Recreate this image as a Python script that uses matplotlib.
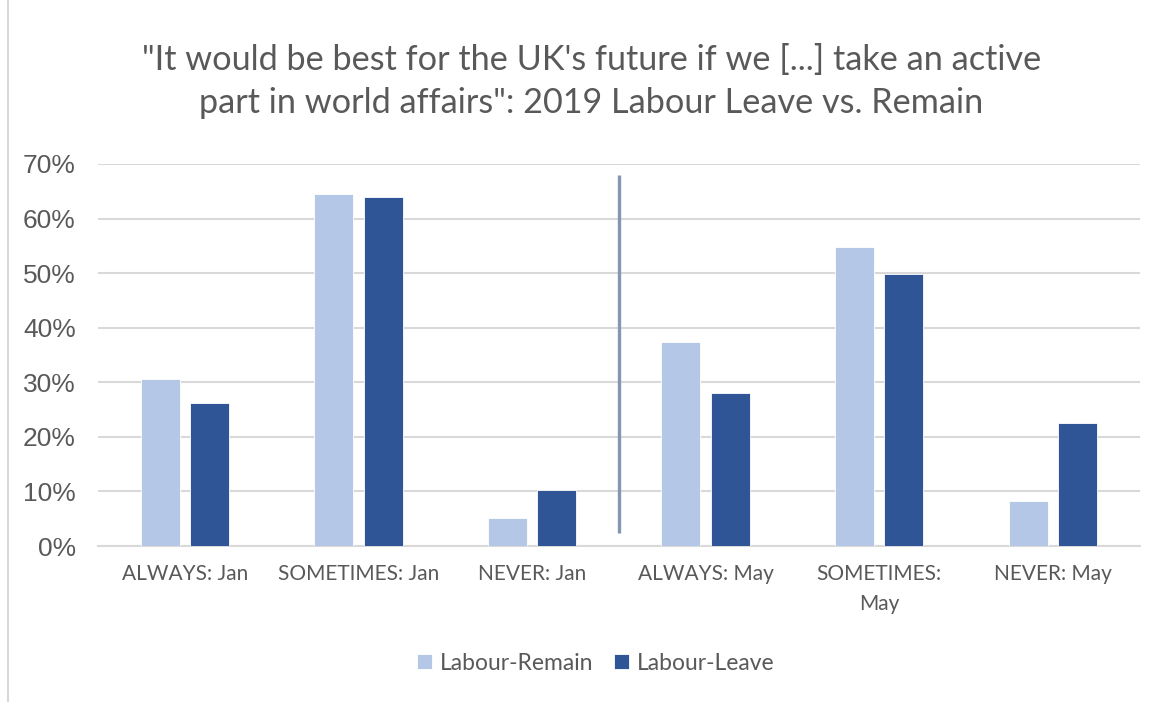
import numpy as np
import matplotlib.pyplot as plt
from matplotlib.lines import Line2D

# Données
categories = ["ALWAYS: Jan", "SOMETIMES: Jan", "NEVER: Jan",
              "ALWAYS: May", "SOMETIMES:\nMay", "NEVER: May"]
labour_remain = [30.6, 64.5, 5.1, 37.4, 54.8, 8.2]
labour_leave = [26.2, 64.0, 10.3, 28.0, 49.8, 22.5]
yticks = [0, 10, 20, 30, 40, 50, 60, 70]

grey_text = '#595959'
grid_col = '#D9D9D9'

fig = plt.figure(figsize=(11.64, 7.02), dpi=100)
ax = fig.add_axes([0.0842, 0.2222, 0.8948, 0.5442])

x = np.arange(len(categories))
w = 0.225
off = 0.142
ax.bar(x - off, labour_remain, w, color='#B4C7E7', edgecolor='white', linewidth=0.6,
       label='Labour-Remain', zorder=3)
ax.bar(x + off, labour_leave, w, color='#2F5597', edgecolor='white', linewidth=0.6,
       label='Labour-Leave', zorder=3)

# Séparateur Jan / May
ax.plot([2.5, 2.5], [2.4, 68], color='#8497B0', lw=2.4, zorder=4,
        solid_capstyle='butt')

ax.set_xlim(-0.5, 5.5)
ax.set_ylim(0, 70)
ax.set_yticks(yticks)
ax.set_yticklabels([f"{t}%" for t in yticks], fontsize=19, color=grey_text,
                   family='Liberation Sans')
ax.set_xticks(x)
ax.set_xticklabels(categories, fontsize=15, color=grey_text, family='Lato',
                   linespacing=1.65)
ax.tick_params(axis='both', length=0)
ax.tick_params(axis='y', pad=16)
ax.tick_params(axis='x', pad=13)
ax.yaxis.grid(True, color=grid_col, lw=1.5, zorder=0)
for s in ['top', 'right', 'left']:
    ax.spines[s].set_visible(False)
ax.spines['bottom'].set_color(grid_col)
ax.spines['bottom'].set_linewidth(1.5)

fig.text(0.508, 0.884,
         "\"It would be best for the UK's future if we [...] take an active\n"
         "part in world affairs\": 2019 Labour Leave vs. Remain",
         ha='center', va='center', fontsize=24.7, color=grey_text, family='Lato',
         linespacing=1.42)

leg = fig.legend(loc='center', bbox_to_anchor=(0.512, 0.055), ncol=2, frameon=False,
                 fontsize=16.5, handlelength=0.65, handleheight=0.65,
                 handletextpad=0.35, columnspacing=0.9)
for t in leg.get_texts():
    t.set_color(grey_text)
    t.set_family('Lato')

# Bordure gauche du graphique
fig.add_artist(Line2D([8 / 1164, 8 / 1164], [0, 1], color=grid_col, lw=1.5,
                      transform=fig.transFigure))

fig.savefig('out.png', dpi=100)
